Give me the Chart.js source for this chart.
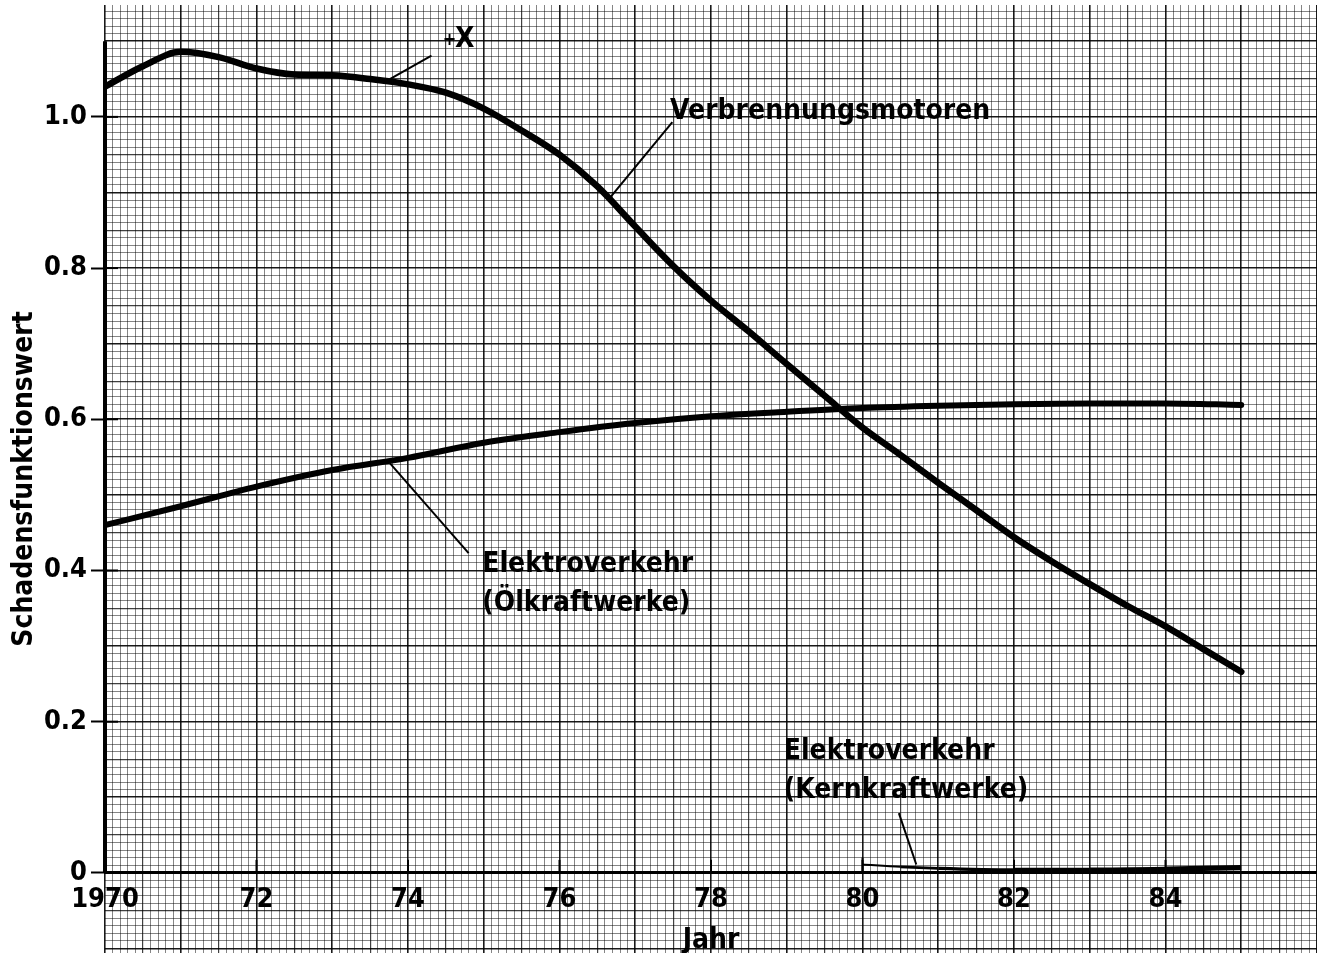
<!DOCTYPE html>
<html>
<head>
<meta charset="utf-8">
<script src="https://cdn.jsdelivr.net/npm/chart.js@4/dist/chart.umd.min.js"></script>
<style>
  html, body { margin: 0; padding: 0; background: #fff; }
</style>
</head>
<body>
<canvas id="chart" width="1317" height="953"></canvas>
<script>
// Kurven (Jahr / Schadensfunktionswert)
const jahreVM = [1970, 1970.5, 1971, 1971.5, 1972, 1972.5, 1973, 1973.5, 1974, 1974.5, 1975, 1975.5,
    1976, 1976.5, 1977, 1977.5, 1978, 1978.5, 1979, 1979.5, 1980, 1980.5, 1981, 1981.5,
    1982, 1982.5, 1983, 1983.5, 1984, 1984.5, 1985];
const werteVM = [1.040, 1.067, 1.086, 1.079, 1.064, 1.056, 1.055, 1.050, 1.043, 1.032, 1.011, 0.982,
    0.950, 0.908, 0.855, 0.803, 0.757, 0.716, 0.673, 0.631, 0.589, 0.553, 0.516, 0.480,
    0.444, 0.412, 0.382, 0.353, 0.326, 0.296, 0.266];

const jahreOel = [1970, 1971, 1972, 1973, 1974, 1975, 1976, 1977, 1978, 1979, 1980, 1981, 1982, 1983, 1984, 1985];
const werteOel = [0.460, 0.485, 0.511, 0.533, 0.549, 0.569, 0.583, 0.595, 0.604, 0.610, 0.615, 0.618, 0.620, 0.621, 0.621, 0.619];

const jahreKern = [1980, 1980.5, 1981, 1982, 1983, 1984, 1985];
const werteKern = [0.011, 0.008, 0.006, 0.004, 0.004, 0.005, 0.007];

// Achsen
const xTickJahre = [1970, 1972, 1974, 1976, 1978, 1980, 1982, 1984];
const yTickWerte = [0, 0.2, 0.4, 0.6, 0.8, 1.0];
const xBereich = [1970, 1986];
const yBereich = [-0.106, 1.148];
const yAchseOben = 1.1;

// Beschriftungen im Diagramm (Datenkoordinaten)
const beschriftungen = [
    { text: ['+'], x: 1974.46, y: 1.101, size: 18, linie: [[1973.76, 1.050], [1974.31, 1.081]] },
    { text: ['X'], x: 1974.62, y: 1.102 },
    { text: ['Verbrennungsmotoren'], x: 1977.46, y: 1.007, linie: [[1976.64, 0.890], [1977.49, 0.993]] },
    { text: ['Elektroverkehr', '(Ölkraftwerke)'], x: 1974.98, y: 0.407, linie: [[1973.76, 0.542], [1974.80, 0.423]] },
    { text: ['Elektroverkehr', '(Kernkraftwerke)'], x: 1978.96, y: 0.160, linie: [[1980.48, 0.079], [1980.71, 0.011]] }
];

const schrift = '"DejaVu Sans Condensed", "DejaVu Sans", sans-serif';

const punkte = (xs, ys) => xs.map((x, i) => ({ x: x, y: ys[i] }));

// Millimeterpapier-Stufen
function papierFarbe(k) {
    if (k % 10 === 0) return 'rgba(0,0,0,0.9)';
    if (k % 5 === 0) return 'rgba(0,0,0,0.75)';
    return 'rgba(0,0,0,0.48)';
}
function papierBreite(k) {
    if (k % 10 === 0) return 1.6;
    if (k % 5 === 0) return 1.2;
    return 1;
}

// kein Rand fuer Beschriftungen reservieren
const ohneRand = s => { s.paddingTop = 0; s.paddingBottom = 0; s.paddingLeft = 0; s.paddingRight = 0; };

const achsenPlugin = {
    id: 'achsen',
    afterDatasetsDraw(chart) {
        const { ctx } = chart;
        const x = chart.scales.x, y = chart.scales.y;
        const x0 = x.getPixelForValue(x.min);
        const y0 = y.getPixelForValue(0);
        ctx.save();
        ctx.strokeStyle = '#000';
        ctx.lineCap = 'butt';
        // y-Achse
        ctx.lineWidth = 4;
        ctx.beginPath();
        ctx.moveTo(x0, y0);
        ctx.lineTo(x0, y.getPixelForValue(yAchseOben));
        ctx.stroke();
        // Teilstriche nach innen
        ctx.lineWidth = 2;
        x.ticks.forEach(t => {
            if (t.value === x.min) return;
            const px = x.getPixelForValue(t.value);
            ctx.beginPath();
            ctx.moveTo(px, y0);
            ctx.lineTo(px, y0 - 13);
            ctx.stroke();
        });
        y.ticks.forEach(t => {
            if (t.value === 0) return;
            const py = y.getPixelForValue(t.value);
            ctx.beginPath();
            ctx.moveTo(x0, py);
            ctx.lineTo(x0 + 13, py);
            ctx.stroke();
        });
        // Beschriftungen und Hinweislinien
        ctx.fillStyle = '#000';
        ctx.textAlign = 'left';
        ctx.textBaseline = 'middle';
        beschriftungen.forEach(b => {
            if (b.linie) {
                ctx.lineWidth = 2;
                ctx.beginPath();
                ctx.moveTo(x.getPixelForValue(b.linie[0][0]), y.getPixelForValue(b.linie[0][1]));
                ctx.lineTo(x.getPixelForValue(b.linie[1][0]), y.getPixelForValue(b.linie[1][1]));
                ctx.stroke();
            }
            ctx.font = 'bold ' + (b.size || 28) + 'px ' + schrift;
            b.text.forEach((zeile, i) => {
                ctx.fillText(zeile, x.getPixelForValue(b.x), y.getPixelForValue(b.y) + i * 39);
            });
        });
        ctx.restore();
    }
};

new Chart(document.getElementById('chart'), {
    type: 'line',
    plugins: [achsenPlugin],
    data: {
        datasets: [
            {
                label: 'Verbrennungsmotoren',
                data: punkte(jahreVM, werteVM),
                borderColor: '#000',
                borderWidth: 6.5,
                borderCapStyle: 'round',
                cubicInterpolationMode: 'monotone',
                pointRadius: 0
            },
            {
                label: 'Elektroverkehr (Ölkraftwerke)',
                data: punkte(jahreOel, werteOel),
                borderColor: '#000',
                borderWidth: 6,
                borderCapStyle: 'round',
                cubicInterpolationMode: 'monotone',
                pointRadius: 0
            },
            {
                label: 'Elektroverkehr (Kernkraftwerke)',
                data: punkte(jahreKern, werteKern),
                borderColor: '#000',
                borderWidth: 3,
                cubicInterpolationMode: 'monotone',
                segment: {
                    borderWidth: c => 2 + 4 * c.p0DataIndex / (jahreKern.length - 1)
                },
                pointStyle: 'line',
                rotation: 90,
                pointRadius: c => c.dataIndex === 0 ? 7 : 0,
                pointBorderColor: '#000',
                pointBorderWidth: 2
            }
        ]
    },
    options: {
        responsive: false,
        animation: false,
        layout: { autoPadding: false, padding: { top: 5, right: 0, bottom: 0, left: 0 } },
        plugins: {
            legend: { display: false },
            tooltip: { enabled: false }
        },
        scales: {
            x: {
                type: 'linear',
                min: xBereich[0],
                max: xBereich[1],
                position: { y: 0 },
                afterBuildTicks: s => { s.ticks = xTickJahre.map(v => ({ value: v })); },
                afterFit: ohneRand,
                ticks: {
                    color: '#000',
                    padding: 3,
                    autoSkip: false,
                    maxRotation: 0,
                    font: { family: schrift, size: 27, weight: 'bold' },
                    callback: v => v === xTickJahre[0] ? String(v) : String(v - 1900)
                },
                grid: { display: false },
                border: { display: true, color: '#000', width: 3 },
                title: {
                    display: true,
                    text: 'Jahr',
                    color: '#000',
                    font: { family: schrift, size: 28, weight: 'bold' },
                    padding: { top: 5, bottom: 0 }
                }
            },
            y: {
                type: 'linear',
                min: yBereich[0],
                max: yBereich[1],
                position: 'left',
                afterFit: s => { s.width = 105; ohneRand(s); },
                afterBuildTicks: s => { s.ticks = yTickWerte.map(v => ({ value: v })); },
                ticks: {
                    color: '#000',
                    padding: 4,
                    font: { family: schrift, size: 27, weight: 'bold' },
                    callback: v => v === 0 ? '0' : v.toFixed(1)
                },
                grid: { drawOnChartArea: false, drawTicks: true, tickLength: 14, tickWidth: 2, tickColor: '#000' },
                border: { display: false },
                title: {
                    display: true,
                    text: 'Schadensfunktionswert',
                    color: '#000',
                    font: { family: schrift, size: 28, weight: 'bold' },
                    padding: { top: 8, bottom: 0 }
                }
            },
            gx: {
                type: 'linear',
                axis: 'x',
                position: 'top',
                min: xBereich[0],
                max: xBereich[1],
                afterFit: s => { s.height = 0; ohneRand(s); },
                ticks: { display: false, stepSize: 0.1, includeBounds: false },
                grid: {
                    drawTicks: false,
                    color: c => papierFarbe(Math.round((c.tick.value - xBereich[0]) * 10)),
                    lineWidth: c => papierBreite(Math.round((c.tick.value - xBereich[0]) * 10))
                },
                border: { display: false }
            },
            gy: {
                type: 'linear',
                axis: 'y',
                position: 'right',
                min: yBereich[0],
                max: yBereich[1],
                afterFit: s => { s.width = 0; ohneRand(s); },
                ticks: { display: false, stepSize: 0.01, includeBounds: false },
                grid: {
                    drawTicks: false,
                    color: c => papierFarbe(Math.round(c.tick.value * 100)),
                    lineWidth: c => papierBreite(Math.round(c.tick.value * 100))
                },
                border: { display: false }
            }
        }
    }
});
</script>
</body>
</html>
